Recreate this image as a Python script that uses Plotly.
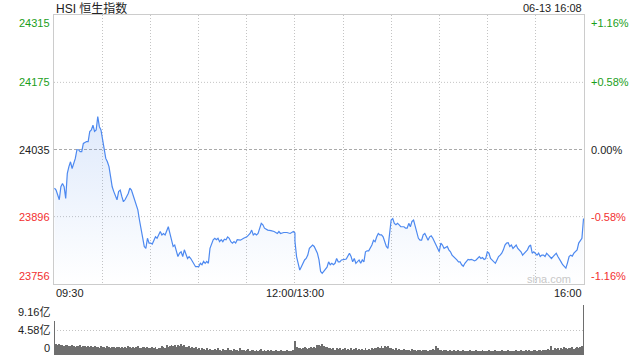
import plotly.graph_objects as go

# ---------------- data ----------------
# trading minutes since the 09:30 open (lunch 12:00-13:00 excluded; 150 = 12:00 and 13:00)
t_min = [0, 1, 3, 4, 5, 6, 7, 8, 9, 10, 11, 12, 13, 14, 15, 16, 17, 18, 20, 21,
         22, 23, 24, 25, 26, 27, 28, 29, 30, 31, 32, 33, 34, 35, 36, 37, 38, 39, 40, 41,
         42, 43, 44, 45, 46, 47, 48, 49, 50, 51, 52, 53, 54, 55, 56, 57, 58, 59, 60, 61,
         62, 63, 64, 65, 66, 67, 68, 69, 70, 71, 72, 73, 74, 75, 76, 77, 78, 79, 80, 81,
         83, 84, 85, 86, 87, 88, 89, 90, 91, 92, 93, 94, 95, 96, 97, 98, 99, 100, 101, 102,
         103, 104, 105, 106, 107, 108, 109, 110, 111, 112, 113, 114, 116, 118, 120, 122, 123, 124, 125, 126,
         127, 129, 130, 131, 133, 135, 137, 139, 140, 141, 143, 145, 147, 149, 150, 150, 151, 152, 153, 154,
         155, 156, 157, 158, 159, 160, 161, 162, 164, 165, 166, 167, 168, 169, 170, 171, 172, 173, 174, 175,
         176, 177, 178, 179, 180, 181, 182, 183, 184, 185, 186, 187, 188, 190, 191, 192, 193, 194, 195, 196,
         197, 198, 199, 200, 201, 202, 203, 204, 205, 206, 207, 208, 209, 210, 211, 212, 213, 214, 215, 216,
         218, 219, 220, 221, 222, 223, 224, 225, 226, 227, 228, 229, 230, 231, 232, 233, 234, 235, 236, 237,
         238, 239, 240, 241, 242, 243, 245, 246, 247, 248, 249, 250, 251, 252, 253, 254, 255, 256, 257, 258,
         259, 260, 261, 262, 263, 264, 265, 266, 267, 268, 269, 270, 271, 272, 274, 275, 276, 277, 278, 279,
         280, 281, 282, 283, 284, 285, 286, 287, 288, 289, 290, 291, 292, 293, 294, 295, 296, 297, 298, 299,
         301, 302, 303, 304, 305, 306, 307, 308, 309, 310, 311, 312, 313, 314, 315, 316, 317, 318, 319, 320,
         321, 322, 323, 324, 325, 326, 327, 329, 330]

price = [23955, 23951, 23931, 23958, 23965, 23958, 23934, 23986, 24000, 24010, 23996, 24007, 24017, 24035, 24035, 24031, 24031, 24048, 24052, 24052,
         24073, 24076, 24086, 24073, 24076, 24104, 24083, 24076, 24055, 24035, 24017, 24010, 24000, 23979, 23958, 23948, 23941, 23931, 23948, 23951,
         23938, 23927, 23931, 23938, 23944, 23955, 23951, 23941, 23931, 23917, 23910, 23889, 23872, 23848, 23834, 23830, 23851, 23841, 23841, 23839,
         23848, 23854, 23851, 23858, 23865, 23858, 23861, 23858, 23865, 23875, 23861, 23848, 23834, 23837, 23823, 23813, 23820, 23823, 23813, 23827,
         23809, 23813, 23809, 23803, 23799, 23792, 23792, 23792, 23799, 23796, 23803, 23799, 23803, 23799, 23830, 23841, 23848, 23851, 23848, 23851,
         23844, 23848, 23844, 23849, 23848, 23854, 23851, 23844, 23841, 23844, 23841, 23848, 23847, 23851, 23854, 23861, 23868, 23858, 23861, 23858,
         23861, 23882, 23879, 23872, 23868, 23867, 23865, 23861, 23865, 23861, 23863, 23863, 23861, 23865, 23862, 23845, 23813, 23799, 23785, 23792,
         23799, 23806, 23809, 23816, 23830, 23834, 23837, 23834, 23820, 23806, 23782, 23778, 23782, 23787, 23791, 23802, 23796, 23799, 23796, 23799,
         23809, 23802, 23802, 23806, 23806, 23807, 23808, 23813, 23820, 23813, 23802, 23809, 23799, 23806, 23799, 23806, 23802, 23823, 23825, 23825,
         23830, 23837, 23847, 23844, 23854, 23861, 23858, 23858, 23854, 23844, 23834, 23830, 23861, 23889, 23892, 23882, 23879, 23882, 23879, 23875,
         23875, 23872, 23872, 23882, 23875, 23886, 23889, 23875, 23861, 23851, 23847, 23847, 23858, 23861, 23854, 23847, 23854, 23856, 23851, 23844,
         23837, 23830, 23823, 23841, 23837, 23830, 23834, 23827, 23823, 23816, 23813, 23811, 23806, 23802, 23802, 23796, 23793, 23799, 23802, 23807,
         23806, 23807, 23806, 23804, 23806, 23809, 23813, 23809, 23811, 23807, 23809, 23823, 23820, 23809, 23802, 23799, 23806, 23813, 23816, 23820,
         23827, 23837, 23841, 23842, 23834, 23837, 23830, 23834, 23837, 23830, 23827, 23823, 23816, 23820, 23823, 23827, 23834, 23837, 23820, 23823,
         23816, 23820, 23813, 23816, 23816, 23813, 23820, 23816, 23813, 23809, 23813, 23816, 23820, 23813, 23806, 23802, 23796, 23793, 23789, 23800,
         23813, 23816, 23814, 23820, 23823, 23827, 23841, 23851, 23892]

# per-minute turnover, 亿 (minute 0 = 09:30 ... 150 = 13:00 ... 330 = close)
volume = [6.2, 2.1, 1.9, 2.0, 1.8, 1.9, 1.7, 1.8, 1.9, 1.6,
          1.7, 1.8, 1.6, 1.5, 1.7, 1.6, 1.8, 1.5, 1.6, 1.7,
          1.5, 1.6, 1.4, 1.7, 1.5, 1.6, 1.4, 1.5, 1.3, 1.6,
          1.4, 1.5, 1.3, 1.6, 1.4, 1.2, 1.5, 1.4, 1.3, 1.5,
          1.4, 1.3, 1.5, 1.2, 1.4, 1.3, 1.6, 1.4, 1.3, 1.5,
          1.3, 1.4, 1.6, 1.3, 1.2, 1.4, 1.5, 1.3, 1.4, 1.2,
          1.3, 1.5, 1.2, 1.4, 1.1, 1.3, 1.2, 1.6, 1.4, 1.3,
          1.8, 1.5, 1.7, 1.9, 1.6, 1.8, 1.5, 1.9, 1.7, 2.0,
          1.6, 1.8, 1.5, 1.4, 1.7, 1.3, 1.5, 1.2, 1.4, 1.1,
          1.2, 1.0, 1.3, 1.1, 0.9, 1.2, 1.0, 1.1, 0.9, 1.0,
          1.1, 0.9, 1.2, 1.0, 0.8, 1.1, 0.9, 1.0, 1.2, 0.9,
          1.0, 0.8, 1.1, 0.9, 1.0, 0.8, 1.2, 0.9, 1.0, 0.8,
          0.9, 1.1, 0.8, 1.0, 0.9, 0.7, 1.0, 0.8, 0.9, 1.1,
          0.8, 0.9, 0.7, 1.0, 0.8, 0.9, 0.7, 0.8, 1.0, 0.7,
          0.8, 0.9, 0.7, 0.8, 0.7, 0.9, 0.8, 0.7, 0.8, 0.9,
          2.6,
          1.4, 1.2, 1.3, 1.1, 1.2, 1.5, 1.3, 1.1, 1.2, 1.4,
          1.3, 1.5, 1.2, 1.8, 1.9, 1.6, 2.0, 1.7, 1.4, 1.5,
          1.2, 1.3, 1.1, 1.2, 1.0, 1.3, 1.1, 1.2, 1.0, 1.1,
          1.2, 1.0, 1.1, 0.9, 1.2, 1.0, 1.1, 1.3, 1.0, 1.1,
          0.9, 1.1, 1.0, 1.2, 0.9, 1.1, 1.0, 1.2, 1.1, 1.3,
          1.2, 1.5, 1.3, 1.6, 1.2, 1.7, 1.4, 1.6, 1.3, 1.2,
          1.1, 1.0, 1.2, 0.9, 1.1, 1.0, 0.9, 1.1, 1.0, 0.9,
          1.0, 0.8, 1.1, 0.9, 1.0, 0.8, 0.9, 1.0, 0.8, 0.9,
          1.0, 0.9, 0.8, 1.0, 0.9, 1.1, 0.9, 1.6, 1.2, 1.0,
          0.9, 0.8, 1.0, 0.9, 0.8, 0.7, 0.9, 0.8, 1.0, 0.8,
          0.7, 0.9, 0.8, 0.7, 0.9, 0.8, 0.7, 0.8, 0.9, 0.7,
          0.8, 0.7, 0.9, 0.8, 0.7, 0.8, 0.9, 0.7, 0.8, 0.7,
          0.9, 0.8, 0.7, 0.8, 0.9, 0.7, 0.8, 0.7, 0.9, 0.8,
          0.7, 0.8, 0.9, 0.7, 0.8, 0.7, 0.8, 0.9, 0.7, 0.8,
          0.9, 0.8, 0.7, 0.9, 0.8, 0.9, 0.7, 0.8, 0.9, 1.0,
          0.8, 0.9, 1.0, 0.8, 0.9, 1.0, 0.9, 1.1, 1.0, 1.6,
          1.0, 1.2, 1.1, 1.3, 1.0, 1.2, 1.1, 1.4, 1.2, 1.1,
          1.3, 1.2, 1.4, 1.1, 1.3, 1.5, 1.2, 1.4, 1.6,
          9.16]

prev_close = 24035.5
y_left_ticks = [24315, 24175, 24035, 23896, 23756]
y_right_ticks = ["+1.16%", "+0.58%", "0.00%", "-0.58%", "-1.16%"]
x_tick_labels = ["09:30", "12:00/13:00", "16:00"]
x_tick_pos = [0, 150, 330]
vol_labels = ["9.16亿", "4.58亿", "0"]
title_text = "HSI 恒生指数"
stamp_text = "06-13 16:08"

# ---------------- styling ----------------
FONT = "Liberation Sans, Arial, Noto Sans CJK SC, sans-serif"
GREEN = "#1a9e1a"
RED = "#f23030"
BLACK = "#222222"
LINE = "#4d89f0"
GRID = "#c4c4c4"
DOT = "1px,2px"

fig = go.Figure()

fig.add_trace(go.Scatter(
    x=t_min, y=price, mode="lines",
    line=dict(color=LINE, width=1.2),
    fill="tozeroy",
    fillgradient=dict(type="vertical", start=23756, stop=24110,
                      colorscale=[[0, "rgba(90,145,235,0.0)"], [1, "rgba(90,145,235,0.2)"]]),
    hoverinfo="skip", showlegend=False, xaxis="x", yaxis="y"))

vol_x = list(range(len(volume)))
fig.add_trace(go.Bar(
    x=vol_x, y=volume, width=0.6,
    marker=dict(color="#6e6e6e", line=dict(width=0)),
    hoverinfo="skip", showlegend=False, xaxis="x2", yaxis="y2"))

xr = [-0.3, 330.3]
fig.update_layout(
    width=640, height=360,
    margin=dict(l=54, r=56, t=15, b=5),
    paper_bgcolor="white", plot_bgcolor="white",
    font=dict(family=FONT, size=11, color=BLACK),
    bargap=0,
    xaxis=dict(domain=[0, 1], range=xr, tickvals=list(range(0, 331, 30)),
               showticklabels=False, showgrid=True, gridcolor=GRID, griddash=DOT,
               gridwidth=1, zeroline=False, showline=True, mirror=True,
               linecolor="#cccccc", linewidth=1, ticks="", anchor="y", fixedrange=True),
    yaxis=dict(domain=[71 / 340, 1], range=[23756, 24315], showticklabels=False,
               showgrid=False, zeroline=False, showline=True, mirror=True,
               linecolor="#cccccc", linewidth=1, ticks="", anchor="x"),
    xaxis2=dict(domain=[0, 1], range=xr, showticklabels=False, showgrid=False,
                zeroline=False, showline=False, anchor="y2"),
    yaxis2=dict(domain=[0, 50 / 340], range=[0, 9.16], tickvals=[4.58, 9.16],
                showticklabels=False, showgrid=True, gridcolor=GRID,
                griddash=DOT, zeroline=False, showline=False, anchor="x2"),
)

# horizontal reference lines in the price panel
for v in [24175, 23896]:
    fig.add_shape(type="line", xref="x domain", yref="y", x0=0, x1=1, y0=v, y1=v,
                  line=dict(color=GRID, width=1, dash=DOT), layer="below")
fig.add_shape(type="line", xref="x domain", yref="y", x0=0, x1=1,
              y0=prev_close, y1=prev_close,
              line=dict(color="#aaaaaa", width=1, dash="3px,2px"), layer="below")

# left / right axis labels
colors = [GREEN, GREEN, BLACK, RED, RED]
anchors = ["top", "middle", "middle", "middle", "bottom"]
for v, rt, c, a in zip(y_left_ticks, y_right_ticks, colors, anchors):
    yy = prev_close if v == 24035 else v
    fig.add_annotation(xref="paper", yref="y", x=0, y=yy, text=str(v), showarrow=False,
                       xanchor="right", yanchor=a, xshift=-2,
                       font=dict(size=11, color=c, family=FONT))
    fig.add_annotation(xref="paper", yref="y", x=1, y=yy, text=rt, showarrow=False,
                       xanchor="left", yanchor=a, xshift=5,
                       font=dict(size=11, color=c, family=FONT))

# time labels
xa = ["left", "center", "right"]
for p, lab, anc in zip(x_tick_pos, x_tick_labels, xa):
    fig.add_annotation(xref="x", yref="paper", x=p, y=(355 - 293) / 340, text=lab,
                       showarrow=False, xanchor=anc, yanchor="middle",
                       font=dict(size=11, color=BLACK, family=FONT))

# volume labels
vol_py = [312, 330, 348]
for lab, py in zip(vol_labels, vol_py):
    fig.add_annotation(xref="paper", yref="paper", x=0, y=(355 - py) / 340, text=lab,
                       showarrow=False, xanchor="right", yanchor="middle", xshift=-2,
                       font=dict(size=11, color=BLACK, family=FONT))

# title, timestamp, watermark
fig.add_annotation(xref="paper", yref="paper", x=0, y=(355 - 8) / 340, text=title_text,
                   showarrow=False, xanchor="left", yanchor="middle",
                   font=dict(size=12, color=BLACK, family=FONT))
fig.add_annotation(xref="paper", yref="paper", x=1, y=(355 - 8) / 340, text=stamp_text,
                   showarrow=False, xanchor="right", yanchor="middle",
                   font=dict(size=11, color=BLACK, family=FONT))
fig.add_annotation(xref="paper", yref="paper", x=1, y=(355 - 279) / 340, text="sina.com",
                   showarrow=False, xanchor="right", yanchor="middle", xshift=-11,
                   font=dict(size=11, color="#c8c8c8", family=FONT))

fig.write_html("out.html", config={"displayModeBar": False},
               post_script="document.body.style.margin='0';document.body.style.overflow='hidden';")
